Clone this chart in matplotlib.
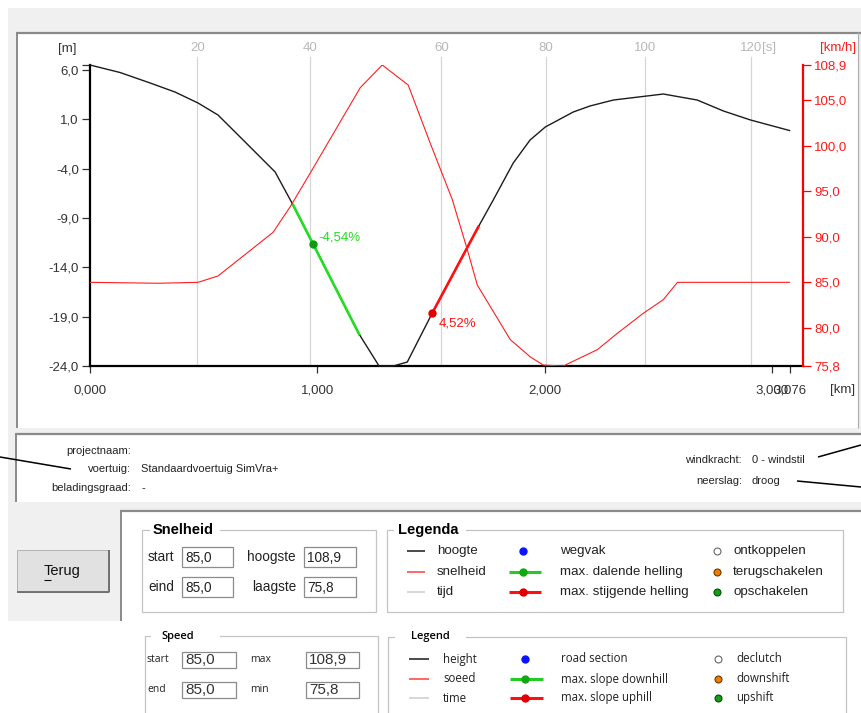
import numpy as np
import matplotlib
matplotlib.use("Agg")
import matplotlib.pyplot as plt
from matplotlib.patches import Rectangle
from matplotlib.transforms import blended_transform_factory

plt.rcParams.update({"font.family": "Liberation Sans", "font.size": 9})

# ---- route profile: height (m) and speed (km/h) against distance (km) ----
height_km = [0.0, 0.132, 0.264, 0.374, 0.475, 0.563, 0.682, 0.814, 0.893, 0.981, 1.183, 1.271,
             1.333, 1.395, 1.505, 1.707, 1.773, 1.861, 1.935, 2.002, 2.125, 2.199, 2.301, 2.521,
             2.670, 2.785, 2.904, 3.076]
height_m = [6.5, 5.74, 4.68, 3.76, 2.65, 1.43, -1.30, -4.34, -7.69, -11.64, -20.76, -24.0,
            -24.0, -23.6, -18.63, -9.92, -7.18, -3.43, -1.10, 0.22, 1.74, 2.35, 2.95, 3.56,
            2.95, 1.84, 0.93, -0.14]
speed_km = [0.0, 0.30, 0.475, 0.563, 0.805, 0.880, 0.968, 1.188, 1.285, 1.399, 1.496, 1.593,
            1.659, 1.703, 1.848, 1.936, 1.993, 2.081, 2.231, 2.319, 2.433, 2.521, 2.583, 3.076]
speed_kmh = [85.0, 84.9, 85.0, 85.7, 90.5, 93.3, 97.0, 106.4, 108.9, 106.7, 100.3, 94.1,
             88.6, 84.7, 78.7, 76.8, 75.9, 75.8, 77.6, 79.4, 81.6, 83.1, 85.0, 85.0]

# steepest stretches (km span, marker position, slope in %)
descent_span, descent_dot, descent_pct = (0.893, 1.183), 0.981, -4.54
ascent_span, ascent_dot, ascent_pct = (1.505, 1.707), 1.505, 4.52

height_ticks = [-24.0, -19.0, -14.0, -9.0, -4.0, 1.0, 6.0, 6.5]
speed_ticks = [75.8, 80.0, 85.0, 90.0, 95.0, 100.0, 105.0, 108.9]
km_ticks = [0.0, 1.0, 2.0, 3.0, 3.076]
time_ticks = [20, 40, 60, 80, 100, 120]

info_labels = ["projectnaam:", "voertuig:", "beladingsgraad:"]
info_values = ["", "Standaardvoertuig SimVra+", "-"]
weather_labels = ["windkracht:", "neerslag:"]
weather_values = ["0 - windstil", "droog"]

legend_nl = [["hoogte", "snelheid", "tijd"],
             ["wegvak", "max. dalende helling", "max. stijgende helling"],
             ["ontkoppelen", "terugschakelen", "opschakelen"]]
legend_en = [["height", "soeed", "time"],
             ["road section", "max. slope downhill", "max. slope uphill"],
             ["declutch", "downshift", "upshift"]]


def nl(v, d=1):
    return f"{v:.{d}f}".replace(".", ",")


W, H = 861, 713
fig = plt.figure(figsize=(W / 100, H / 100), dpi=100)
bg = fig.add_axes([0, 0, 1, 1])
bg.set_xlim(0, W); bg.set_ylim(H, 0); bg.axis("off"); bg.set_autoscale_on(False)

NL = "Liberation Sans"
EN = "Open Sans"


def box(x0, y0, x1, y1, fc="none", ec="none", lw=0.72, z=1):
    bg.add_patch(Rectangle((x0, y0), x1 - x0, y1 - y0, facecolor=fc, edgecolor=ec, lw=lw, zorder=z))


def seg(xs, ys, c, lw=0.72, z=2):
    bg.plot(xs, ys, color=c, lw=lw, zorder=z, solid_capstyle="butt")


def group(x0, y0, x1, y1, title, tx, gap, **kw):
    box(x0, y0, x1, y1, ec="#c4c4c4", lw=0.9, z=2)
    box(gap[0], y0 - 2, gap[1], y0 + 2, fc="white", z=2.5)
    bg.text(tx, y0, title, va="center", ha="left", zorder=3, **kw)


def entry(x0, y0, x1, y1, txt, **kw):
    box(x0, y0, x1, y1, fc="white", ec="#8c8c8c", lw=0.9, z=2)
    bg.text(x0 + 3, (y0 + y1) / 2 + 0.5, txt, va="center", ha="left", zorder=3, **kw)


# window frame and panels
box(8, 8, W, 621, fc="#f0f0f0", z=0)
box(16, 32, 858, 428, fc="white", z=0.5)
seg([16, W], [32.5, 32.5], "#8a8a8a", lw=1.6)
seg([16.5, 16.5], [32, 428], "#8a8a8a", lw=1.4)
seg([858, 858], [32, 428], "#b0b0b0", lw=0.9)
box(15, 433, W, 502, fc="white", z=0.5)
seg([15, W], [433.5, 433.5], "#8a8a8a", lw=1.6)
seg([15.5, 15.5], [433, 502], "#8a8a8a", lw=1.4)
box(120, 510, W, 621, fc="white", z=0.5)
seg([120, W], [510.5, 510.5], "#8a8a8a", lw=1.6)
seg([120.5, 120.5], [510, 621], "#8a8a8a", lw=1.4)
box(0, 621, W, H, fc="white", z=0.6)

# button
box(17, 550, 109, 592, fc="#e1e1e1", ec="#b4b4b4", lw=0.72, z=1)
seg([17, 109], [592, 592], "#6a6a6a", lw=1.3)
seg([109, 109], [550, 592], "#6a6a6a", lw=1.3)
bg.text(44, 571, "Terug", ha="left", va="center", fontsize=10.5, family=NL, color="#111111")
seg([44, 51], [579.5, 579.5], "#111111", lw=0.8)

# project info
for i, (lab, val) in enumerate(zip(info_labels, info_values)):
    y = 451 + i * 18.5
    bg.text(131, y, lab, ha="right", va="center", fontsize=8, family=NL, color="#222222")
    bg.text(141, y, val, ha="left", va="center", fontsize=8, family=NL, color="#222222")
for i, (lab, val) in enumerate(zip(weather_labels, weather_values)):
    y = 460 + i * 21
    bg.text(742, y, lab, ha="right", va="center", fontsize=8, family=NL, color="#222222")
    bg.text(752, y, val, ha="left", va="center", fontsize=8, family=NL, color="#222222")
seg([0, 71], [457, 469], "black", lw=1.1, z=4)
seg([818, W], [457, 445], "black", lw=1.1, z=4)
seg([797, W], [481, 487], "black", lw=1.1, z=4)

# speed summary boxes
v_start, v_end, v_max, v_min = speed_kmh[0], speed_kmh[-1], max(speed_kmh), min(speed_kmh)
group(142, 530, 376, 612, "Snelheid", 153, (150, 220), fontsize=10.5, weight="bold", family=NL)
for y0, lab, val, lab2, val2 in [(547, "start", v_start, "hoogste", v_max),
                                 (577, "eind", v_end, "laagste", v_min)]:
    bg.text(148, y0 + 10, lab, ha="left", va="center", fontsize=9.8, family=NL, color="#222222")
    entry(182, y0, 233, y0 + 20, nl(val), fontsize=9.8, family=NL, color="#222222")
    bg.text(296, y0 + 10, lab2, ha="right", va="center", fontsize=9.8, family=NL, color="#222222")
    entry(304, y0, 356, y0 + 20, nl(val2), fontsize=9.8, family=NL, color="#222222")

group(145, 636, 378, 730, "Speed", 161, (151, 220), fontsize=8, weight="semibold", family=EN)
for y0, lab, val, lab2, val2 in [(652, "start", v_start, "max", v_max),
                                 (682, "end", v_end, "min", v_min)]:
    bg.text(147, y0 + 7.5, lab, ha="left", va="center", fontsize=7.5, family=EN, color="#222222")
    entry(182, y0, 236, y0 + 16, nl(val), fontsize=11, family=NL, color="#333333")
    bg.text(250, y0 + 7.5, lab2, ha="left", va="center", fontsize=7.5, family=EN, color="#222222")
    entry(306, y0, 359, y0 + 16, nl(val2), fontsize=11, family=NL, color="#333333")


# legend panels
def legend_panel(x0, y0, x1, y1, title, tx, gap, rows, names, tkw, fkw, cols):
    group(x0, y0, x1, y1, title, tx, gap, **tkw)
    lx, mx, ex = cols
    line_cols = ["#3c3c3c", "#ff5a5a", "#d4d4d4"]
    for r, y in enumerate(rows):
        seg([lx[0], lx[1]], [y, y], line_cols[r], lw=1.3, z=3)
        bg.text(lx[2], y, names[0][r], ha="left", va="center", zorder=3, **fkw)
        if r == 0:
            bg.plot(mx[0], y, "o", ms=5, color="#0a14ff", zorder=3)
        else:
            c = "#22cc22" if r == 1 else "#ff1010"
            seg([mx[1], mx[2]], [y, y], c, lw=2.2, z=3)
            bg.plot(mx[0], y, "o", ms=5, color="#11a811" if r == 1 else "#e00000", zorder=4)
        bg.text(mx[3], y, names[1][r], ha="left", va="center", zorder=3, **fkw)
        fc, ec = [("white", "#666666"), ("#ee7d00", "#6a3800"), ("#11a011", "#0a4a0a")][r]
        bg.plot(ex[0], y, "o", ms=5, mfc=fc, mec=ec, mew=0.8, zorder=3)
        bg.text(ex[1], y, names[2][r], ha="left", va="center", zorder=3, **fkw)


legend_panel(387, 530, 843, 612, "Legenda", 398, (394, 466), [551, 572, 592], legend_nl,
             dict(fontsize=10.5, weight="bold", family=NL),
             dict(fontsize=9.6, family=NL, color="#222222"),
             ((407, 425, 437), (523, 509, 541, 560), (717, 733)))
legend_panel(388, 637, 846, 730, "Legend", 411, (395, 466), [659, 679, 698], legend_en,
             dict(fontsize=8, weight="semibold", family=EN),
             dict(fontsize=8.3, family=EN, color="#222222"),
             ((409, 429, 443), (525, 510, 543, 561), (718, 736)))

# ---- chart: height on the left axis, speed on the right, time gridlines ----
ax = fig.add_axes([90 / W, 1 - 366 / H, 713 / W, 301 / H])
ax.set_facecolor("none")
ax.set_xlim(0, 3.135)
ax.set_ylim(-24.0, 6.5)

# elapsed time along the route from the speed profile
dist = np.linspace(0, km_ticks[-1], 4000)
v = np.interp(dist, speed_km, speed_kmh)
t = np.concatenate([[0], np.cumsum(np.diff(dist) / ((v[1:] + v[:-1]) / 2) * 3600)])
grid_km = np.interp(time_ticks, t, dist)
trans = blended_transform_factory(ax.transData, ax.transAxes)
for k, ts in zip(grid_km, time_ticks):
    ax.axvline(k, ymin=0, ymax=1.027, color="#d6d6d6", lw=0.9, clip_on=False, zorder=1)
    ax.text(k, 1.0565, str(ts), transform=trans, ha="center", va="center",
            color="#b8b8b8", fontsize=9.5)
ax.annotate("[s]", xy=(grid_km[-1], 1.0565), xycoords=trans, xytext=(11, 0),
            textcoords="offset pixels", ha="left", va="center", color="#b8b8b8", fontsize=9.5)

ax.plot(height_km, height_m, color="#1c1c1c", lw=1.0, zorder=3, clip_on=False)
for span, dot, pct, lc, dc, off in [(descent_span, descent_dot, descent_pct, "#22dd22", "#119911", (5, 7)),
                                    (ascent_span, ascent_dot, ascent_pct, "#ff1010", "#e00000", (6, -10))]:
    sx = np.linspace(span[0], span[1], 60)
    ax.plot(sx, np.interp(sx, height_km, height_m), color=lc, lw=1.9, zorder=4)
    dy = np.interp(dot, height_km, height_m)
    ax.plot(dot, dy, "o", ms=5, color=dc, zorder=5)
    ax.annotate(nl(pct, 2) + "%", xy=(dot, dy), xytext=off, textcoords="offset pixels",
                ha="left", va="center", color=lc, fontsize=9.5, zorder=5)

for s in ["top", "right"]:
    ax.spines[s].set_visible(False)
for s in ["left", "bottom"]:
    ax.spines[s].set_linewidth(1.6)
    ax.spines[s].set_color("black")
ax.set_yticks(height_ticks, [nl(h) if h != max(height_ticks) else "" for h in height_ticks])
ax.set_xticks(km_ticks, [nl(k, 3) for k in km_ticks])
ax.tick_params(axis="y", length=6, width=0.9, color="#333333", labelcolor="#333333",
               labelsize=9.5, pad=2)
ax.tick_params(axis="x", length=5, width=0.9, color="#333333", labelcolor="#333333",
               labelsize=9.5, pad=8)

ax2 = ax.twinx()
ax2.plot(speed_km, speed_kmh, color="#ff1e1e", lw=0.8, zorder=2)
ax2.set_ylim(speed_ticks[0], speed_ticks[-1])
for s in ["top", "left", "bottom"]:
    ax2.spines[s].set_visible(False)
ax2.spines["right"].set_color("#ff0000")
ax2.spines["right"].set_linewidth(1.6)
ax2.set_yticks(speed_ticks, [nl(s) for s in speed_ticks])
ax2.tick_params(axis="y", length=6, width=0.9, color="#ff0000", labelcolor="#ff1a1a",
                labelsize=9.5, pad=2)

bg.text(67, 49, "[m]", ha="center", va="center", fontsize=9.5, color="#333333")
bg.text(838, 48, "[km/h]", ha="center", va="center", fontsize=9.5, color="#ff1a1a")
bg.text(843, 390, "[km]", ha="center", va="center", fontsize=9.5, color="#333333")

fig.savefig("out.png", dpi=100)
